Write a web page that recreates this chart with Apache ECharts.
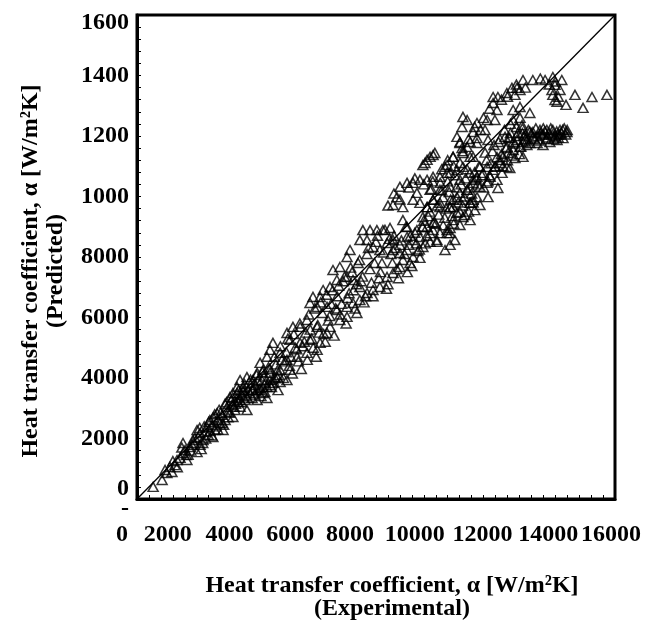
<!DOCTYPE html>
<html>
<head>
<meta charset="utf-8">
<script src="https://cdn.jsdelivr.net/npm/echarts@6/dist/echarts.min.js"></script>
<style>
html,body{margin:0;padding:0;background:#fff;}
#chart{width:661px;height:626px;}
</style>
</head>
<body>
<div id="chart"></div>
<script>
// ---- data ----
const xTickLabels = ['0','2000','4000','6000','8000','10000','12000','14000','16000'];
const yTickLabels = ['0','2000','4000','6000','8000','1000','1200','1400','1600'];
const diagonal = [0, 16000];

const experimental = [
 540,840,940,1100,1000,1170,1340,1540,1540,1670,1770,1870,2010,2110,2010,2110,2340,2440,2540,2680,2780,2880,3010,3110,3210,3350,3450,3550,3680,3780,4020,4020,4220,4350,4550,4790,
 1270,1440,1610,1710,1840,1940,2210,2280,2380,2510,2610,2710,2850,2950,3050,3180,3280,3380,3510,3620,3720,3850,3950,4120,4180,4280,4450,4620,4720,
 3210,3350,3450,3550,3680,3880,3880,4020,4120,4220,4220,4350,4450,4450,4450,4550,4690,4790,4790,5020,5020,5020,5120,5120,5220,5360,5460,5460,5690,5690,5790,5790,5890,6030,6030,6030,6130,6130,6230,6360,6360,6460,6460,6560,6690,6690,6790,6790,7030,7030,7030,7030,7130,7230,7230,7360,7460,7460,7460,7560,7700,7700,7800,7900,7900,8030,8130,8130,8230,8370,8370,8470,8570,8570,8800,8800,9040,9140,9240,9470,
 8570,8900,9040,9040,9240,9370,9470,9570,9810,9910,10040,10380,10480,
 8700,8570,8800,8900,9040,9240,9240,9370,9470,9470,9710,9710,9810,9910,9910,10140,10140,10140,10480,10480,10480,10580,10710,10710,10810,10810,11050,11150,11250,11380,
 9570,9710,9910,10380,10580,10810,10810,10910,11050,11150,11380,
 12920,13250,13660,13920,14220,13990,13890,13920,13990,14060,14160,
 14660,15230,15730,14930,14360,
 11920,12080,12380,12550,12720,12820,12650,12050,11920,10910,11050,11380,11720,11980,10880,10710,11250,11380,11650,11750,10810,10880,11150,11250,12590,12820,13150,12820,12590,12890,
 9640,9810,9970,10310,10580,10380,10910,
 13250,13490,13720,13920,14160,14390,14260,14060,13820,13590,13390,13150,12920,12720,12480,12320,12380,12590,12820,13050,12920,12650,12420,12250,12150,11980,11720,11480,11580,11820,12050,12220,12380,12480,12080,11750,11480,11250,11150,11380,11050,11150,10910,10710,10580,10810,10480,10240,10140,9910,9710,9570,9710,9910,10140,10380,10480,10040,9810,9570,
 13000,13600,14000,14300,13400,12700,12500,14100,13800,13100,
 10480,10640,10310,10810,10980,11150,11310,11480,10580,10910,11250,11720,11920,12150,
 1200,1350,1500,1650,1800,1900,2050,2150,2250,2300,2450,2550,2650,2750,2850,2950,3050,3150,3250,3350,3450,3550,3650,3750,3850,3950,4050,4150,4250,4350,4450,4550,4650,4750,4850,4900,5000,5100,5200,5300,5400,5500,5600,5700,5800,5900,6000,6100,6200,6300,6400,6500,6600,6700,6800,6900,7000,7100,7200,7300,7400,7500,7600,7700,7800,7900,8000,8100,8200,8300,8400,8500,8600,8700,8800,8900,9000,9100,9200,9300,9400,9600,9700,9800,10000,10100,10200,10300,10400,10500,10600,10700,10900,11000,11100,11200,11300,11400,11600,11700,11800,11900,12000,12100,12200,12300,12400,12500,12600,12700,12800,12900,13000,13200,13300,13500,13700,13900,14100,14200,14400,13600,12900,
 8400,8600,8800,9100,9300,9600,9900,10200,10400,10600,10900,11100,11300,11500,11600,11800,12200,12400,12700,13000,13500,13800,14100,14000,
 4600,4700,4800,4950,5050,5150,5250,5350,5450,5550,5650,5750,5850,5950,6050,6150,6250,6350,6450,6550,6650,6750,6850,6950,7050,7150,7250,7350,7450,7550,7650,7750,7850,7950,8050,8150,8250,8350,8450,8550,8650,8750,8850,8950,9050,9150,9350,9450,9550,9650,
 9750,9850,9950,10050,10150,10250,10350,10450,10550,10650,10750,10850,10950,11050,11150,11250,11350,11450,11550,11650,11750,11850,11950,12050,12150,12250,12350,12450,12550,12650,12750,12850,12950,13050,13150,13250,13350,13450,13550,13650,13750,13850,13950,14050,14150,14250,14350,
 2100,2200,2400,2500,2600,2700,2800,2900,3000,3100,3200,3300,3400,3500,3600,3700,3800,3900,4000,4100,4200,4300,4400,4500
];
const predicted = [
 400,630,960,1060,860,890,1290,1520,1850,1290,1720,1950,1550,2180,2280,1790,2380,2610,2050,2840,2510,2280,3040,3370,2710,3500,3270,3700,2940,3500,3600,3270,3500,3340,3840,3870,
 1120,1360,1620,1460,1790,2020,1950,2220,2120,2450,2280,2610,2780,2610,2880,3110,2940,3210,3440,3270,3600,3340,3770,3670,3930,3540,3770,4000,3600,
 3500,3700,3930,3600,4030,3930,3600,4170,4500,4270,3700,4700,4930,4170,3930,5160,4030,4830,4270,4600,3930,5490,5260,4270,5690,4700,5690,5160,5920,4830,6480,5260,6680,6350,5690,4930,6680,5160,6910,6350,5490,7010,5690,7570,7240,6250,7670,5920,8000,7340,6350,6020,8230,7240,6480,6150,8560,7010,6580,8890,8560,6810,8890,8330,6910,8890,8230,7010,8890,8460,7340,8960,8230,7470,8130,7670,8230,7800,8000,7970,
 8560,9220,8990,8660,8560,8890,8660,8990,8790,9130,8560,8790,8960,
 9980,9720,10320,9650,10450,10450,9890,10120,10550,9790,10550,9650,10220,10650,9890,10650,10220,9790,10780,10320,9650,9890,10880,9460,10550,10120,10220,9790,10450,9980,
 11040,11210,11370,11040,11310,11770,11110,11440,11640,11310,11770,
 13850,13850,13850,13950,13850,13690,13520,13360,13190,13130,13520,
 13360,13290,13360,12930,13030,
 13290,13290,13420,13590,13590,13520,13360,12860,13090,12630,12530,12430,12530,12530,12300,11970,12130,11930,12200,11870,11800,11600,11800,11310,12860,12960,12760,12600,12530,12360,
 11110,11310,11440,10980,11310,10780,10980,
 12130,12200,12200,12200,12200,12130,11930,11870,11800,11700,11770,11770,11800,11870,11930,11970,11640,11540,11640,11700,11310,11270,11440,11310,11210,10980,10980,10980,10780,10650,10550,10780,10980,10940,10280,9980,10320,10550,10780,10650,10220,9790,9890,9980,9650,9490,9650,9980,9650,9890,9650,9320,8990,8890,8790,8890,8790,8500,8500,8330,
 12050,12050,12000,12250,12000,12000,12100,12050,12100,12200,
 8400,8560,8230,9060,9390,9220,9550,9720,9220,9320,9890,10450,10880,11110,
 1250,1050,1700,1450,1600,1850,2050,1650,2400,2000,2250,2700,2400,2950,2500,3150,2700,3250,3050,3350,3050,3550,3400,3850,3600,3450,3900,3400,4050,3700,4300,3950,4450,4100,4600,4000,4850,4400,4150,5000,4550,4300,5200,4600,5600,5000,4700,5500,6150,5200,5900,6450,5400,6700,6100,7200,5800,6800,7500,6300,7800,7200,6500,8100,7600,6700,8500,7300,7800,8900,7100,8100,8700,7600,8400,7900,9000,8400,7700,8800,8200,9200,8700,9500,9100,9400,10200,9300,10500,9900,9100,10300,9700,10600,9500,10100,10800,10400,10300,11200,10700,11500,11000,11800,11400,12200,11200,12400,11800,12300,11400,12100,11900,12100,11900,12100,11900,12050,11950,12100,12200,12250,12250,
 9700,10100,9900,10300,10600,10400,10500,10900,11200,11000,11500,11900,12300,12200,12600,12900,13200,13300,13700,13600,13900,13700,13300,13800,
 4700,4250,5050,4550,5300,4700,5450,4950,5800,5050,5500,6100,5300,6300,5750,6500,5450,6750,6050,6900,6300,7050,6450,7350,6650,7650,6900,7100,7900,7350,6700,8300,7150,7800,8700,7500,8150,6950,8600,7800,8300,7300,8550,8100,7500,8700,8450,8250,9000,8450,
 9350,10250,9150,9700,10450,9050,9600,10150,9350,10700,9800,10400,10000,10900,10300,9800,10600,11000,10700,11450,10500,11100,11700,11300,11900,11000,11600,11950,11350,11750,12100,11650,12000,11850,12150,11950,12250,11850,12050,12150,11950,12250,11900,12150,12050,12200,12050,
 2350,1850,2550,2100,2800,2300,2850,2450,3200,2850,3350,3150,3600,3200,3800,3350,3950,3650,4100,3600,4200,3850,4350,3700
];

// ---- styling / layout ----
const FONT = 'Liberation Serif';
const LBL = 24;
const xLabelShift = [15, 29, 27, 26, 26, 21, 13, 7, 4];   // px to the left
const xRich = {};
xLabelShift.forEach((s, i) => {
  xRich['a' + i] = {fontFamily: FONT, fontWeight: 'bold', fontSize: LBL, color: '#000', padding: [0, 2 * s, 0, 0]};
});
const yRich = {
  n: {fontFamily: FONT, fontWeight: 'bold', fontSize: LBL, color: '#000'},
  top: {fontFamily: FONT, fontWeight: 'bold', fontSize: LBL, color: '#000', padding: [16, 0, 0, 0]},
  z: {fontFamily: FONT, fontWeight: 'bold', fontSize: LBL, color: '#000', lineHeight: 20}
};

const points = experimental.map((x, i) => [x, predicted[i]]);

const chart = echarts.init(document.getElementById('chart'), null, {renderer: 'canvas'});
chart.setOption({
  backgroundColor: '#fff',
  animation: false,
  grid: {left: 137, right: 46, top: 15, bottom: 127, show: true, borderColor: '#000', borderWidth: 3},
  xAxis: {
    type: 'value', min: 0, max: 16000, interval: 2000,
    name: 'Heat transfer coefficient, α [W/m²K]\n(Experimental)',
    nameLocation: 'middle', nameGap: 75,
    nameTextStyle: {fontFamily: FONT, fontWeight: 'bold', fontSize: 24, color: '#000', lineHeight: 23, padding: [0, 0, 0, 32]},
    axisLine: {show: true, lineStyle: {color: '#000', width: 3}},
    axisTick: {show: true, inside: true, length: 4, lineStyle: {color: '#000', width: 1}},
    minorTick: {show: true, splitNumber: 5, length: 4, lineStyle: {color: '#000', width: 1}},
    splitLine: {show: false},
    axisLabel: {
      margin: 24,
      formatter: v => { const i = Math.round(v / 2000); return '{a' + i + '|' + xTickLabels[i] + '}'; },
      rich: xRich
    }
  },
  yAxis: {
    type: 'value', min: 0, max: 16000, interval: 2000,
    name: 'Heat transfer coefficient, α [W/m²K]\n(Predicted)',
    nameLocation: 'middle', nameGap: 69,
    nameTextStyle: {fontFamily: FONT, fontWeight: 'bold', fontSize: 24, color: '#000', lineHeight: 25, padding: [0, 28, 0, 0]},
    axisLine: {show: true, lineStyle: {color: '#000', width: 3}},
    axisTick: {show: true, inside: true, length: 4, lineStyle: {color: '#000', width: 1}},
    minorTick: {show: true, splitNumber: 5, length: 4, lineStyle: {color: '#000', width: 1}},
    splitLine: {show: false},
    axisLabel: {
      margin: 8,
      formatter: v => {
        const i = Math.round(v / 2000);
        if (i === 0) return '{z|' + yTickLabels[0] + '}\n{z|-}';
        if (i === yTickLabels.length - 1) return '{top|' + yTickLabels[i] + '}';
        return '{n|' + yTickLabels[i] + '}';
      },
      rich: yRich
    }
  },
  series: [
    {
      type: 'line', data: [[diagonal[0], diagonal[0]], [diagonal[1], diagonal[1]]],
      symbol: 'none', lineStyle: {color: '#000', width: 1.3}, z: 1, silent: true
    },
    {
      type: 'scatter', data: points, symbol: 'triangle', symbolSize: [10, 9],
      itemStyle: {color: 'rgba(255,255,255,0)', borderColor: '#000', borderWidth: 1.5}, z: 2
    }
  ]
});
</script>
</body>
</html>
